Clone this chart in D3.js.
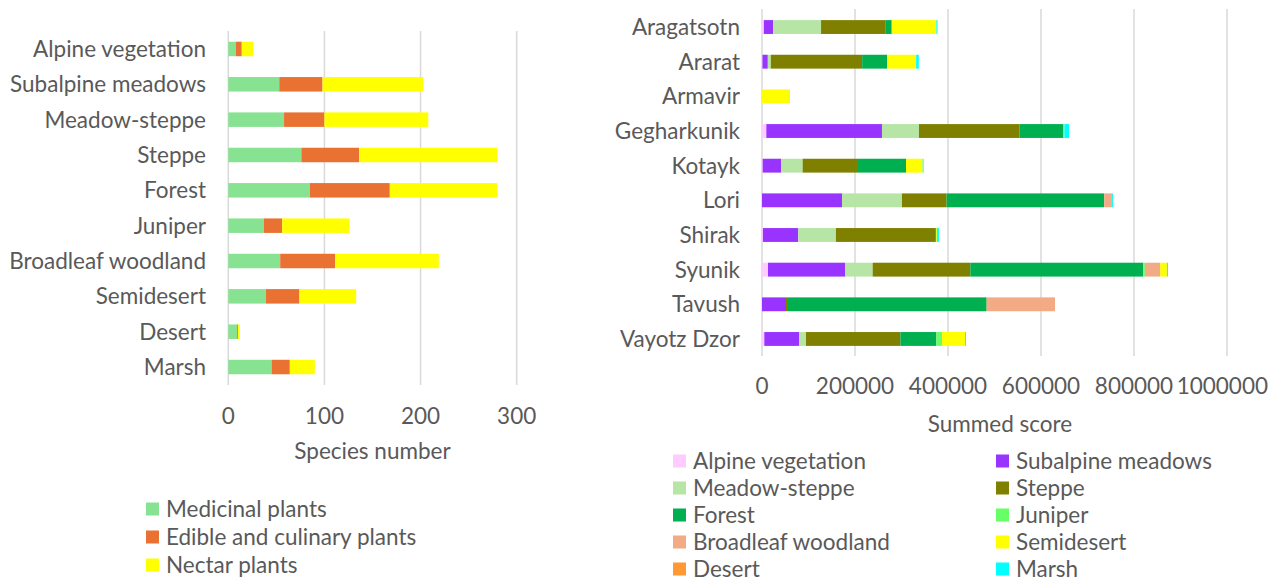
<!DOCTYPE html>
<html><head><meta charset="utf-8">
<script src="https://cdn.jsdelivr.net/npm/d3@7"></script>
<style>body{margin:0;background:#fff}svg{display:block}text{font-family:Lato,"Open Sans",sans-serif;fill:#595959}</style>
</head><body><svg id="c" width="1271" height="577"></svg>
<script>
// Left chart data
const habitats = ["Alpine vegetation","Subalpine meadows","Meadow-steppe","Steppe","Forest","Juniper","Broadleaf woodland","Semidesert","Desert","Marsh"];
const useGroups = ["Medicinal plants","Edible and culinary plants","Nectar plants"];
const medicinal = [8,53,58,76,85,37,54,39,9,45];
const edible    = [6,45,42,60,83,19,57,35,1,19];
const nectar    = [12,105,108,144,112,70,108,59,2,26];
const leftTicks = [0,100,200,300];
const useColors = ["#87E292","#E97132","#FFFF00"];

// Right chart data
const regions = ["Aragatsotn","Ararat","Armavir","Gegharkunik","Kotayk","Lori","Shirak","Syunik","Tavush","Vayotz Dzor"];
const vegTypes = ["Alpine vegetation","Subalpine meadows","Meadow-steppe","Steppe","Forest","Juniper","Broadleaf woodland","Semidesert","Desert","Marsh"];
const alpineS    = [4000,1000,0,9300,1500,0,2000,12900,0,5000];
const subalpineS = [20000,11500,0,248700,39400,172000,76000,166300,51600,74600];
const meadowS    = [103000,6500,0,79600,46500,129000,81000,58800,0,15000];
const steppeS    = [138000,196400,0,216500,119000,96000,215000,210000,4300,203000];
const forestS    = [14000,53700,0,93200,103300,339000,0,371800,427200,77400];
const juniperS   = [0,0,0,3000,0,0,0,3600,0,12200];
const broadleafS = [0,0,0,0,0,15000,0,33000,147000,0];
const semidesertS= [96000,62400,58000,0,35800,0,2000,14400,0,49400];
const desertS    = [0,0,0,0,0,0,0,0,0,0];
const marshS     = [2500,5700,1000,10000,2000,3700,4500,2200,0,2000];
const rightTicks = [0,200000,400000,600000,800000,1000000];
const vegColors = ["#FFCCFF","#9933FF","#B7E5A6","#808000","#00B050","#66FF66","#F2AB84","#FFFF00","#FF9933","#00FFFF"];

const svg = d3.select("#c");
const grid = "#D9D9D9";
const FS = 22.5;

// ---------- Left chart ----------
{
  const series = [medicinal, edible, nectar];
  const rows = habitats.map((h,i)=>{const o={h}; useGroups.forEach((g,j)=>o[g]=series[j][i]); return o;});
  const stack = d3.stack().keys(useGroups)(rows);
  const x = d3.scaleLinear().domain([0,300]).range([228.3,516.7]);
  const y = d3.scaleBand().domain(habitats).range([31.3,384.7]).paddingInner(0.59).paddingOuter(0.295);
  const g = svg.append("g");
  g.selectAll("line.g").data(leftTicks).join("line")
    .attr("x1",d=>x(d)).attr("x2",d=>x(d)).attr("y1",31).attr("y2",385)
    .attr("stroke",grid).attr("stroke-width",1.5);
  stack.forEach((s,j)=>{
    g.append("g").selectAll("rect").data(s).join("rect")
      .attr("x",d=>x(d[0])).attr("width",d=>x(d[1])-x(d[0]))
      .attr("y",d=>y(d.data.h)).attr("height",y.bandwidth())
      .attr("fill",useColors[j]);
  });
  g.selectAll("text.cat").data(habitats).join("text")
    .attr("x",206).attr("y",d=>y(d)+y.bandwidth()/2).attr("dy","0.35em")
    .attr("text-anchor","end").attr("font-size",FS).text(d=>d);
  g.selectAll("text.tk").data(leftTicks).join("text")
    .attr("x",d=>x(d)).attr("y",416).attr("dy","0.35em")
    .attr("text-anchor","middle").attr("font-size",FS).text(d=>d);
  g.append("text").attr("x",372.5).attr("y",451).attr("dy","0.35em")
    .attr("text-anchor","middle").attr("font-size",FS).text("Species number");
  const lg = g.selectAll("g.lg").data(useGroups).join("g")
    .attr("transform",(d,i)=>`translate(146,${509+i*28})`);
  lg.append("rect").attr("x",0).attr("y",-6.5).attr("width",13).attr("height",13).attr("fill",(d,i)=>useColors[i]);
  lg.append("text").attr("x",20).attr("y",0).attr("dy","0.35em").attr("font-size",FS).text(d=>d);
}

// ---------- Right chart ----------
{
  const series = [alpineS,subalpineS,meadowS,steppeS,forestS,juniperS,broadleafS,semidesertS,desertS,marshS];
  const rows = regions.map((r,i)=>{const o={r}; vegTypes.forEach((v,j)=>o[v]=series[j][i]); return o;});
  const stack = d3.stack().keys(vegTypes)(rows);
  const x = d3.scaleLinear().domain([0,1000000]).range([762,1227]);
  const y = d3.scaleBand().domain(regions).range([9.7,356.3]).paddingInner(0.6).paddingOuter(0.3);
  const g = svg.append("g");
  g.selectAll("line.g").data(rightTicks).join("line")
    .attr("x1",d=>x(d)).attr("x2",d=>x(d)).attr("y1",9).attr("y2",356)
    .attr("stroke",grid).attr("stroke-width",1.5);
  stack.forEach((s,j)=>{
    g.append("g").selectAll("rect").data(s).join("rect")
      .attr("x",d=>x(d[0])).attr("width",d=>Math.max(0,x(d[1])-x(d[0])))
      .attr("y",d=>y(d.data.r)).attr("height",y.bandwidth())
      .attr("fill",vegColors[j]);
  });
  g.selectAll("text.cat").data(regions).join("text")
    .attr("x",740).attr("y",d=>y(d)+y.bandwidth()/2).attr("dy","0.35em")
    .attr("text-anchor","end").attr("font-size",FS).text(d=>d);
  g.selectAll("text.tk").data(rightTicks).join("text")
    .attr("x",d=>x(d)).attr("y",386).attr("dy","0.35em")
    .attr("text-anchor","middle").attr("font-size",FS).text(d=>d)
    .each(function(){ // keep tick labels inside the picture, as the original chart does
      const b=this.getBBox(); if(b.x+b.width>1268){ d3.select(this).attr("x",+d3.select(this).attr("x")-(b.x+b.width-1268)); }
    });
  g.append("text").attr("x",1000).attr("y",424).attr("dy","0.35em")
    .attr("text-anchor","middle").attr("font-size",FS).text("Summed score");
  const lg = g.selectAll("g.lg").data(vegTypes).join("g")
    .attr("transform",(d,i)=>`translate(${i%2===0?673:996},${461+Math.floor(i/2)*27})`);
  lg.append("rect").attr("x",0).attr("y",-6.5).attr("width",13).attr("height",13).attr("fill",(d,i)=>vegColors[i]);
  lg.append("text").attr("x",20).attr("y",0).attr("dy","0.35em").attr("font-size",FS).text(d=>d);
}
</script></body></html>
